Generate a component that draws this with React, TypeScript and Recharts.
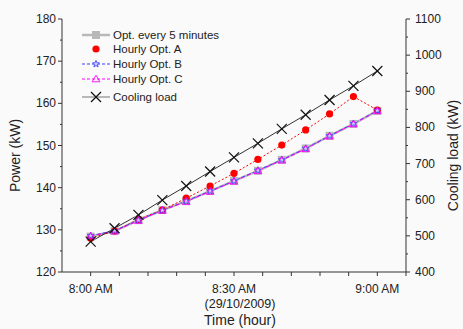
import React from 'react';
import { LineChart, Line, XAxis, YAxis, Legend } from 'recharts';

// minutes after 8:00 AM, 29/10/2009
const minutes = [0, 5, 10, 15, 20, 25, 30, 35, 40, 45, 50, 55, 60];
const optEvery5 = [128.4, 129.7, 132.3, 134.7, 136.8, 139.2, 141.6, 144.0, 146.6, 149.3, 152.3, 155.1, 158.2];
const hourlyA = [128.0, 129.7, 132.5, 134.7, 137.5, 140.4, 143.4, 146.7, 150.1, 153.7, 157.5, 161.6, 158.4];
const hourlyB = [128.6, 129.8, 132.3, 134.6, 136.8, 139.2, 141.6, 144.1, 146.6, 149.3, 152.3, 155.2, 158.3];
const hourlyC = [128.5, 129.7, 132.2, 134.6, 136.7, 139.1, 141.5, 144.0, 146.5, 149.2, 152.2, 155.1, 158.2];
const coolingLoad = [484, 521, 558, 599, 638, 678, 717, 756, 796, 835, 876, 915, 956];

const xTicks = [0, 6, 12, 18, 24, 30, 36, 42, 48, 54, 60, 66];
const xTickLabels = ['8:00 AM', '', '', '', '', '8:30 AM', '', '', '', '', '9:00 AM', ''];
const xSubLabels = ['', '', '', '', '', '(29/10/2009)', '', '', '', '', '', ''];
const powerTicks = [120, 125, 130, 135, 140, 145, 150, 155, 160, 165, 170, 175, 180];
const loadTicks = [400, 450, 500, 550, 600, 650, 700, 750, 800, 850, 900, 950, 1000, 1050, 1100];

const seriesNames = ['Opt. every 5 minutes', 'Hourly Opt. A', 'Hourly Opt. B', 'Hourly Opt. C', 'Cooling load'];

const data = minutes.map((m, i) => ({
  m,
  opt5: optEvery5[i],
  a: hourlyA[i],
  b: hourlyB[i],
  c: hourlyC[i],
  load: coolingLoad[i],
}));

const FONT = '"Liberation Sans", Arial, sans-serif';
const AXIS = '#333';
const TXT = '#222';

type Kind = 'square' | 'dot' | 'star' | 'tri' | 'x';

const Marker = ({ kind, cx, cy }: { kind: Kind; cx: number; cy: number }) => {
  if (kind === 'square')
    return <rect x={cx - 4} y={cy - 4} width={8} height={8} fill="#b8b8b8" />;
  if (kind === 'dot') return <circle cx={cx} cy={cy} r={3.6} fill="#ff0000" />;
  if (kind === 'star') {
    const pts = [];
    for (let k = 0; k < 10; k++) {
      const r = k % 2 === 0 ? 3.6 : 1.6;
      const a = -Math.PI / 2 + (k * Math.PI) / 5;
      pts.push(`${cx + r * Math.cos(a)},${cy + r * Math.sin(a)}`);
    }
    return <polygon points={pts.join(' ')} fill="#c8c8ff" stroke="#3a3aff" strokeWidth={0.8} />;
  }
  if (kind === 'tri')
    return (
      <polygon
        points={`${cx},${cy - 3.8} ${cx + 3.8},${cy + 2.8} ${cx - 3.8},${cy + 2.8}`}
        fill="none"
        stroke="#ff00ff"
        strokeWidth={0.9}
      />
    );
  return (
    <g stroke="#111" strokeWidth={1.2}>
      <line x1={cx - 5} y1={cy - 5} x2={cx + 5} y2={cy + 5} />
      <line x1={cx - 5} y1={cy + 5} x2={cx + 5} y2={cy - 5} />
    </g>
  );
};

const dotOf = (kind: Kind) => (p: any) => <Marker key={`${kind}-${p.index}`} kind={kind} cx={p.cx} cy={p.cy} />;

const TimeTick = (props: any) => {
  const { x, y, payload, index } = props;
  const i = index ?? xTicks.indexOf(payload.value);
  return (
    <g>
      <line x1={x} y1={y} x2={x} y2={y + 4} stroke={AXIS} />
      {xTickLabels[i] && (
        <text x={x} y={y + 21} textAnchor="middle" fontSize={12} fontFamily={FONT} fill={TXT}>
          {xTickLabels[i]}
        </text>
      )}
      {xSubLabels[i] && (
        <text x={x + 6} y={y + 36} textAnchor="middle" fontSize={12.5} fontFamily={FONT} fill={TXT}>
          {xSubLabels[i]}
        </text>
      )}
    </g>
  );
};

const PowerTick = (props: any) => {
  const { x, y, payload } = props;
  const major = payload.value % 10 === 0;
  return (
    <g>
      <line x1={x - (major ? 4 : 2)} y1={y} x2={x} y2={y} stroke={AXIS} />
      {major && (
        <text x={x - 6} y={y + 4} textAnchor="end" fontSize={12} fontFamily={FONT} fill={TXT}>
          {payload.value}
        </text>
      )}
    </g>
  );
};

const LoadTick = (props: any) => {
  const { x, y, payload } = props;
  const major = payload.value % 100 === 0;
  return (
    <g>
      <line x1={x} y1={y} x2={x + (major ? 4 : 2)} y2={y} stroke={AXIS} />
      {major && (
        <text x={x + 9} y={y + 4} textAnchor="start" fontSize={12} fontFamily={FONT} fill={TXT}>
          {payload.value}
        </text>
      )}
    </g>
  );
};

const legendStyle: { kind: Kind; stroke: string; dash?: string; width: number; line: boolean }[] = [
  { kind: 'square', stroke: '#b8b8b8', width: 2.5, line: true },
  { kind: 'dot', stroke: '#ff0000', width: 1, line: false },
  { kind: 'star', stroke: '#3a3aff', dash: '3 2', width: 1, line: true },
  { kind: 'tri', stroke: '#ff00ff', dash: '3 2', width: 1, line: true },
  { kind: 'x', stroke: '#777', width: 1, line: true },
];
const legendRows = [8, 22, 37, 52, 70];

const LegendBox = () => (
  <svg width={160} height={80}>
    {seriesNames.map((name, i) => {
      const s = legendStyle[i];
      const y = legendRows[i];
      return (
        <g key={name}>
          {s.line && <line x1={2} y1={y} x2={30} y2={y} stroke={s.stroke} strokeWidth={s.width} strokeDasharray={s.dash} />}
          <Marker kind={s.kind} cx={16} cy={y} />
          <text x={33} y={y + 4} fontSize={11.5} fontFamily={FONT} fill={TXT}>
            {name}
          </text>
        </g>
      );
    })}
  </svg>
);

export default function App() {
  return (
    <div style={{ position: 'absolute', left: 0, top: 0, width: 463, height: 329, background: '#fafafa' }}>
      <LineChart width={463} height={329} data={data} margin={{ top: 19, right: 0, bottom: 0, left: 0 }}>
        <XAxis
          xAxisId="b"
          dataKey="m"
          type="number"
          domain={[-6, 66]}
          ticks={xTicks}
          interval={0}
          height={57}
          tickSize={0}
          tickMargin={0}
          tick={<TimeTick />}
          stroke={AXIS}
          label={{
            content: (p: any) => (
              <text
                x={p.viewBox.x + p.viewBox.width / 2 + 6}
                y={p.viewBox.y + 53}
                textAnchor="middle"
                fontSize={14}
                fontFamily={FONT}
                fill={TXT}
              >
                Time (hour)
              </text>
            ),
          }}
        />
        <XAxis xAxisId="t" orientation="top" type="number" domain={[-6, 66]} height={0} tick={false} tickLine={false} stroke={AXIS} />
        <YAxis
          yAxisId="p"
          domain={[120, 180]}
          ticks={powerTicks}
          interval={0}
          width={62}
          tickSize={0}
          tickMargin={0}
          tick={<PowerTick />}
          stroke={AXIS}
          label={{
            content: (p: any) => (
              <text
                transform={`translate(20, ${p.viewBox.y + p.viewBox.height / 2 + 10}) rotate(-90)`}
                textAnchor="middle"
                fontSize={14}
                fontFamily={FONT}
                fill={TXT}
              >
                Power (kW)
              </text>
            ),
          }}
        />
        <YAxis
          yAxisId="l"
          orientation="right"
          domain={[400, 1100]}
          ticks={loadTicks}
          interval={0}
          width={57}
          tickSize={0}
          tickMargin={0}
          tick={<LoadTick />}
          stroke={AXIS}
          label={{
            content: (p: any) => (
              <text
                transform={`translate(${p.viewBox.x + 52}, ${p.viewBox.y + p.viewBox.height / 2 + 10}) rotate(-90)`}
                textAnchor="middle"
                fontSize={14}
                fontFamily={FONT}
                fill={TXT}
              >
                Cooling load (kW)
              </text>
            ),
          }}
        />
        <Legend
          layout="vertical"
          align="center"
          verticalAlign="middle"
          content={<LegendBox />}
          wrapperStyle={{ left: 80, top: 27, width: 160, height: 80 }}
        />
        <Line xAxisId="b" yAxisId="p" dataKey="opt5" name={seriesNames[0]} stroke="#b8b8b8" strokeWidth={2.5} dot={dotOf('square')} isAnimationActive={false} />
        <Line xAxisId="b" yAxisId="p" dataKey="a" name={seriesNames[1]} stroke="#ff0000" strokeWidth={1} strokeDasharray="2 2" dot={dotOf('dot')} isAnimationActive={false} />
        <Line xAxisId="b" yAxisId="p" dataKey="b" name={seriesNames[2]} stroke="#3a3aff" strokeWidth={1} strokeDasharray="4 2" dot={dotOf('star')} isAnimationActive={false} />
        <Line xAxisId="b" yAxisId="p" dataKey="c" name={seriesNames[3]} stroke="#ff00ff" strokeWidth={1} strokeDasharray="4 3" dot={dotOf('tri')} isAnimationActive={false} />
        <Line xAxisId="b" yAxisId="l" dataKey="load" name={seriesNames[4]} stroke="#333" strokeWidth={1} dot={dotOf('x')} isAnimationActive={false} />
      </LineChart>
    </div>
  );
}
